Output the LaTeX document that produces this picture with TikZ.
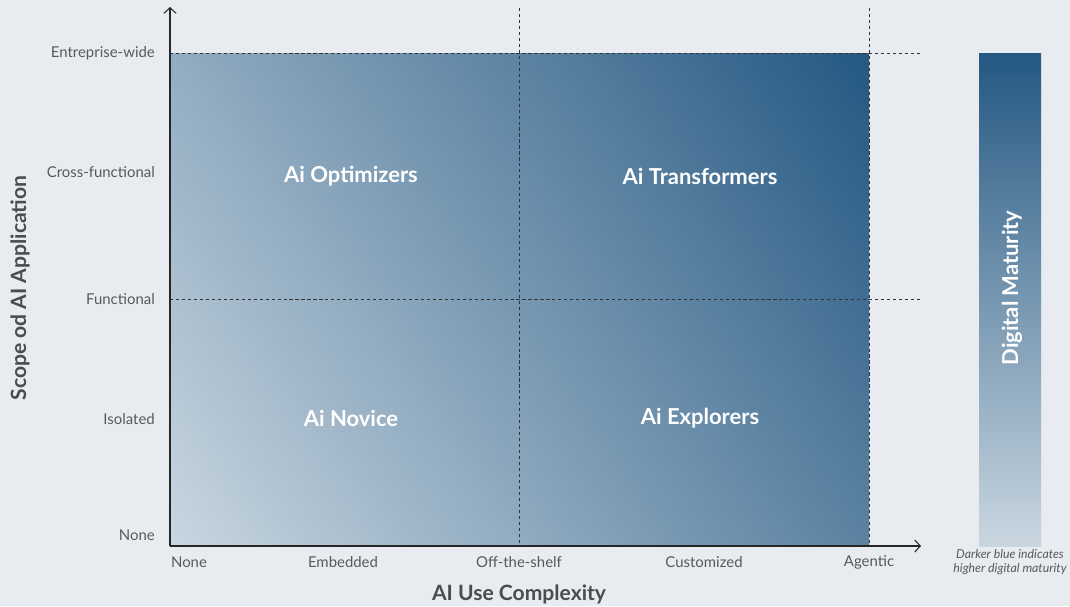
\documentclass[tikz,border=0pt]{standalone}
\usepackage{fontspec}
\setmainfont{Lato}
\usetikzlibrary{arrows.meta}
\definecolor{bg}{HTML}{E8ECF0}
\definecolor{darkblue}{HTML}{245882}
\definecolor{paleblue}{HTML}{C9D6E0}
\definecolor{labelgray}{HTML}{58595B}
\begin{document}
\begin{tikzpicture}[x=0.02cm, y=-0.02cm,
	tick/.style={text=labelgray, font=\fontsize{8.5}{10}\selectfont},
	quad/.style={text=white, font=\fontsize{12.5}{15}\selectfont\bfseries},
	title/.style={text=labelgray!85!black, font=\fontsize{12}{14}\selectfont\bfseries},
	guide/.style={dash pattern=on 1.8pt off 1.6pt, draw=black!80, line width=0.55pt},
	axis/.style={draw=black!85, line width=0.6pt, -{Straight Barb[length=3.2pt,width=7pt]}}]
	\useasboundingbox (0,0) rectangle (1070,606);
	\fill[bg] (0,0) rectangle (1070,606);

	% matrix field: square shade clipped, so the tilt stays true
	\begin{scope}
		\clip (170,53) rectangle (869,546);
		\shade[top color=darkblue, bottom color=paleblue, shading angle=-55] (91.8,-128.2) rectangle (947.2,727.2);
	\end{scope}
	\shade[top color=darkblue, bottom color=paleblue] (979,53) rectangle (1041,546);

	\coordinate (origin) at (170,546);
	\coordinate (ytip) at (170,7);
	\coordinate (xtip) at (921,546);
	\coordinate (topL) at (170,53);
	\coordinate (topR) at (921,53);
	\coordinate (midL) at (170,299);
	\coordinate (midR) at (921,299);
	\coordinate (offTop) at (519,8);
	\coordinate (offBot) at (519,546);
	\coordinate (agTop) at (869,8);
	\coordinate (agBot) at (869,546);

	\draw[guide] (topL) -- (topR);
	\draw[guide] (midL) -- (midR);
	\draw[guide] (offTop) -- (offBot);
	\draw[guide] (agTop) -- (agBot);

	\draw[axis] (origin) -- (ytip);
	\draw[axis] (origin) -- (xtip);

	\foreach \name/\y/\txt in {ent/53/Entreprise-wide, cross/172/Cross-functional, func/299/Functional, iso/419/Isolated, ynone/535/None}
	\node[tick, anchor=east] (\name) at (161,\y) {\txt};

	\foreach \name/\x/\txt in {xnone/189/None, emb/343/Embedded, shelf/519/Off-the-shelf, cust/704/Customized, agentic/869/Agentic}
	\node[tick] (\name) at (\x,562) {\txt};

	\node[title] (xtitle) at (519,594) {AI Use Complexity};
	\node[title, rotate=90] (ytitle) at (20,288) {Scope od AI Application};

	\node[quad] (optimizers) at (351,176) {Ai Optimizers};
	\node[quad] (transformers) at (700,176) {Ai Transformers};
	\node[quad] (novice) at (351,418) {Ai Novice};
	\node[quad] (explorers) at (700,418) {Ai Explorers};

	\node[quad, rotate=90] (maturity) at (1012,288) {Digital Maturity};
	\node[text=labelgray, align=center, font=\fontsize{7}{7.6}\selectfont\itshape] (note) at (1010,562) {Darker blue indicates\\higher digital maturity};
\end{tikzpicture}
\end{document}
